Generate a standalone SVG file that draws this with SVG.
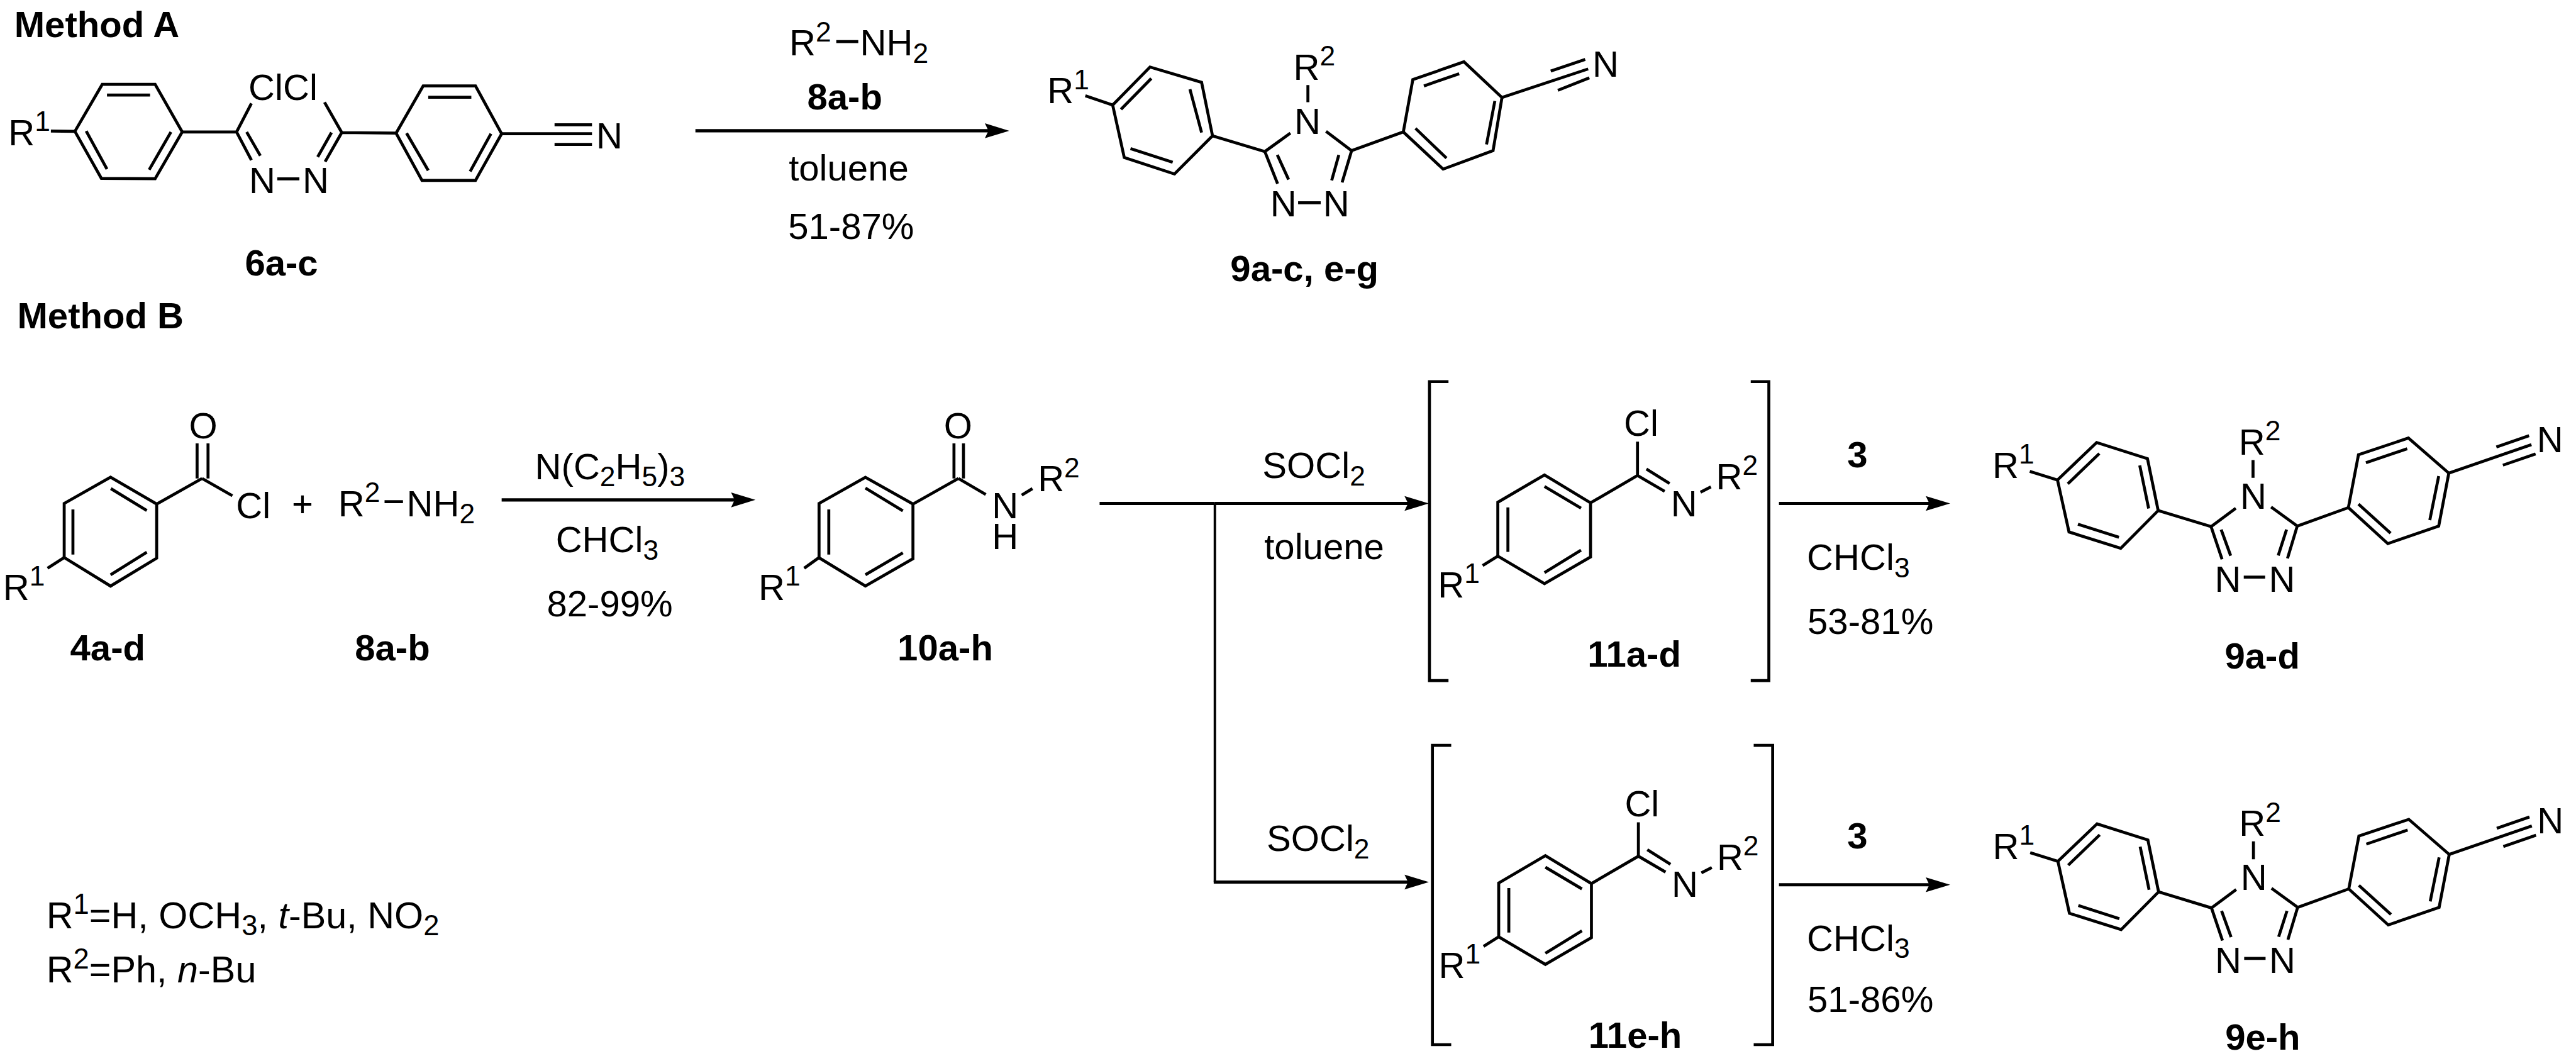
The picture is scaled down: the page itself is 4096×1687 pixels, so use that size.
<svg xmlns="http://www.w3.org/2000/svg" width="4096" height="1687" viewBox="0 0 4096 1687">
<style>
text{font-family:"Liberation Sans",Arial,sans-serif;font-size:61.5px;fill:#000}
.bd{font-weight:700}
.it{font-style:italic}
.s{font-size:47px}
.lg{font-size:62.8px}
.lg .s{font-size:48px}
.b{fill:none;stroke:#000;stroke-width:5;stroke-linejoin:miter;stroke-linecap:butt}
.c{fill:none;stroke:#000;stroke-width:5.5}
.v{fill:none;stroke:#000;stroke-width:4.2}
.br{fill:none;stroke:#000;stroke-width:5}
</style>
<defs>
<marker id="head" markerUnits="userSpaceOnUse" markerWidth="44" markerHeight="28" refX="20" refY="13" orient="auto" overflow="visible">
<path d="M41,13 L0,0.5 L6,13 L0,25.5 Z" fill="#000"/>
</marker>
</defs>
<rect width="4096" height="1687" fill="#fff"/>
<g transform="scale(0.94509)">

<g id="connectors">
<path class="c" marker-end="url(#head)" d="M1170,220 H1677"/>
<path class="c" marker-end="url(#head)" d="M844,841 H1250"/>
<path class="c" d="M1850,847 H2044"/>
<path class="c" marker-end="url(#head)" d="M2044,847 H2383"/>
<path class="v" d="M2044,847 V1484"/>
<path class="c" marker-end="url(#head)" d="M2042,1484 H2383"/>
<path class="c" marker-end="url(#head)" d="M2993,847 H3260"/>
<path class="c" marker-end="url(#head)" d="M2993,1488.5 H3260"/>
</g>

<g id="method-a-label"><text class="bd" x="24" y="62">Method A</text></g>
<g id="method-b-label"><text class="bd" x="29" y="552.7">Method B</text></g>

<g id="node-6a-c">
<polygon class="b" points="126,221 172,142 261,142 306.6,222 261,300.6 170.5,300"/>
<polygon class="b" points="666.4,224 712,144.6 800,144.6 844,225 800,303.5 710,303.5"/>
<path class="b" d="M180,160H252.5M145,220.6L180,284.5M287.6,222L251,285.6M85.6,220.6L126,221M306.6,222H397.7M398,222L423,174M398,222L423,269.5M415,222L438,262M466.5,301H503.7M575,223L546,172M575,223L547,272M557.7,223L534.5,264M575,223L666.4,224M720.5,163.5H793M684,224L720.5,286.7M826,225L791,288.5M844,225H996M933,210H996M933,243H996"/>
<text x="14" y="244.5">R<tspan class="s" dy="-24">1</tspan></text>
<text x="418" y="168.5">ClCl</text>
<text x="419" y="325">N</text>
<text x="509" y="325">N</text>
<text x="1003" y="250">N</text>
<text class="bd" x="412" y="463">6a-c</text>
</g>

<g id="reagents-a">
<path class="b" d="M1407,70H1444"/>
<text x="1328" y="93.6">R<tspan class="s" dy="-24">2</tspan></text>
<text x="1447" y="93.6">NH<tspan class="s" dy="12">2</tspan></text>
<text class="bd" x="1358" y="184.6">8a-b</text>
<text x="1327" y="303.5">toluene</text>
<text x="1326" y="401.7">51-87%</text>
</g>

<g id="node-9a-c-e-g">
<polygon class="b" points="1872,176.7 1934.8,112.8 2021.6,138.5 2040,228.5 1976,292.7 1891.5,265"/>
<polygon class="b" points="2361,222 2377,134 2463,104 2527,164 2512,253.5 2428,284.5"/>
<path class="b" d="M1937,132L1886,184M2002,150L2021.6,223M1902,250L1973,273M1826,161L1872,176.7M2040,228.5L2128,255M2128,255L2171,224M2200.5,143V172M2231,221L2274,253.5M2274,253.5L2361,222M2128,255L2149.5,309M2149,260.6L2168,302M2274,253.5L2258,307M2252.5,260.6L2240.5,303.5M2184,341H2222M2395.6,144.6L2455,124M2515,170L2501,243M2381.5,216L2433.6,266M2527,164L2672,116M2609,119.6L2667,100M2621,152L2674,131"/>
<text x="1762" y="174">R<tspan class="s" dy="-24">1</tspan></text>
<text x="2176" y="134">R<tspan class="s" dy="-24">2</tspan></text>
<text x="2177.5" y="225">N</text>
<text x="2137" y="364">N</text>
<text x="2226" y="364">N</text>
<text x="2679" y="129">N</text>
<text class="bd" x="2070" y="473">9a-c, e-g</text>
</g>

<g id="node-4a-d">
<polygon class="b" points="108,847 186,802.8 263.6,848 263.6,939 186,986 108,938"/>
<path class="b" d="M186.5,822L247,859M122.7,857V933M247,929L186,967M263.6,848L340,805M340,805L391,834M331.6,805V746M350,805V746M80,956L108,938"/>
<text x="318" y="737">O</text>
<text x="397" y="872.4">Cl</text>
<text x="5" y="1009">R<tspan class="s" dy="-24">1</tspan></text>
<text class="bd" x="118" y="1110.5">4a-d</text>
</g>

<g id="plus"><text x="491" y="869">+</text></g>

<g id="node-8a-b">
<path class="b" d="M647,844H678"/>
<text x="569" y="868.5">R<tspan class="s" dy="-24">2</tspan></text>
<text x="684" y="868.5">NH<tspan class="s" dy="12">2</tspan></text>
<text class="bd" x="597" y="1110.5">8a-b</text>
</g>

<g id="reagents-b1">
<text x="900" y="806">N(C<tspan class="s" dy="12">2</tspan><tspan dy="-12">H</tspan><tspan class="s" dy="12">5</tspan><tspan dy="-12">)</tspan><tspan class="s" dy="12">3</tspan></text>
<text x="935" y="929.5">CHCl<tspan class="s" dy="12">3</tspan></text>
<text x="920" y="1037">82-99%</text>
</g>

<g id="node-10a-h">
<polygon class="b" points="1378,847 1456,803 1536,848 1536,940 1456,986 1378,938.4"/>
<path class="b" d="M1456,821L1519,859.5M1394.4,857V933M1519,930L1456,967M1536,848L1612.5,805M1612.5,805L1658.5,832M1605,805V746M1621,805V746M1719,833L1737,822M1353,956L1378,938"/>
<text x="1588" y="737">O</text>
<text x="1669" y="872">N</text>
<text x="1669" y="924">H</text>
<text x="1746" y="826.7">R<tspan class="s" dy="-24">2</tspan></text>
<text x="1276" y="1009">R<tspan class="s" dy="-24">1</tspan></text>
<text class="bd" x="1510" y="1110.5">10a-h</text>
</g>

<g id="reagents-b2">
<text x="2124" y="804.6">SOCl<tspan class="s" dy="12">2</tspan></text>
<text x="2127" y="941">toluene</text>
<text x="2131" y="1432">SOCl<tspan class="s" dy="12">2</tspan></text>
</g>

<g id="node-11a-d">
<path class="br" d="M2437,642H2405V1145H2437M2945.5,642H2976V1145H2945.5"/>
<polygon class="b" points="2520,845 2598.5,799 2676,846 2676,937 2598.5,982 2520,935.6"/>
<path class="b" d="M2598.5,818.5L2660,855M2537,853.5V928.4M2660,925.6L2598.5,963.4M2676,846L2755,800M2755,800V743M2755,800L2800.7,826.7M2770,789L2809,813.5M2861,828L2878.5,819M2494.5,951.6L2520,935.6"/>
<text x="2732" y="733">Cl</text>
<text x="2811" y="868.5">N</text>
<text x="2887" y="823">R<tspan class="s" dy="-24">2</tspan></text>
<text x="2419" y="1005">R<tspan class="s" dy="-24">1</tspan></text>
<text class="bd" x="2671" y="1122">11a-d</text>
</g>

<g id="node-11e-h">
<path class="br" d="M2441.6,1254H2410V1757.5H2441.6M2950.5,1254H2982.4V1757.5H2950.5"/>
<g transform="translate(1.5,640.5)">
<polygon class="b" points="2520,845 2598.5,799 2676,846 2676,937 2598.5,982 2520,935.6"/>
<path class="b" d="M2598.5,818.5L2660,855M2537,853.5V928.4M2660,925.6L2598.5,963.4M2676,846L2755,800M2755,800V743M2755,800L2800.7,826.7M2770,789L2809,813.5M2861,828L2878.5,819M2494.5,951.6L2520,935.6"/>
<text x="2732" y="733">Cl</text>
<text x="2811" y="868.5">N</text>
<text x="2887" y="823">R<tspan class="s" dy="-24">2</tspan></text>
<text x="2419" y="1005">R<tspan class="s" dy="-24">1</tspan></text>
<text class="bd" x="2671" y="1122">11e-h</text>
</g>
</g>

<g id="reagents-c1">
<text class="bd" x="3108" y="786">3</text>
<text x="3040" y="959">CHCl<tspan class="s" dy="12">3</tspan></text>
<text x="3041" y="1067">53-81%</text>
</g>
<g id="reagents-c2">
<text class="bd" x="3108" y="1427">3</text>
<text x="3040" y="1600">CHCl<tspan class="s" dy="12">3</tspan></text>
<text x="3041" y="1703">51-86%</text>
</g>

<g id="node-9a-d">
<polygon class="b" points="3461.6,807.5 3527.5,744.5 3613,771.6 3631,859 3568,922.5 3481,895"/>
<polygon class="b" points="3951,854 3968,765 4052,737 4120,796 4103,885 4017.4,914.6"/>
<path class="b" d="M3532,763L3479,814M3600,783L3615,855.5M3496,882L3565,904M3415,793L3461.6,807.5M3631,859L3720,886M3720,886L3761.6,855M3790.6,774V804M3821,853L3865,885M3865,885L3951,854M3720,886L3738.5,941M3737,891L3753,935M3865,885L3848.6,939.4M3847,891L3833,934.5M3775,971H3811M3980.5,778.6L4050,755M4103,801L4088,875M3968,848L4022,897M4120,796L4259,748M4200,752L4255,733M4211,782.6L4266,763.7"/>
<text x="3352" y="804">R<tspan class="s" dy="-24">1</tspan></text>
<text x="3766.5" y="765">R<tspan class="s" dy="-24">2</tspan></text>
<text x="3769" y="856">N</text>
<text x="3726" y="995.5">N</text>
<text x="3817" y="995.5">N</text>
<text x="4268" y="761">N</text>
<text class="bd" x="3743" y="1125">9a-d</text>
</g>

<g id="node-9e-h" transform="translate(0.7,641.5)">
<polygon class="b" points="3461.6,807.5 3527.5,744.5 3613,771.6 3631,859 3568,922.5 3481,895"/>
<polygon class="b" points="3951,854 3968,765 4052,737 4120,796 4103,885 4017.4,914.6"/>
<path class="b" d="M3532,763L3479,814M3600,783L3615,855.5M3496,882L3565,904M3415,793L3461.6,807.5M3631,859L3720,886M3720,886L3761.6,855M3790.6,774V804M3821,853L3865,885M3865,885L3951,854M3720,886L3738.5,941M3737,891L3753,935M3865,885L3848.6,939.4M3847,891L3833,934.5M3775,971H3811M3980.5,778.6L4050,755M4103,801L4088,875M3968,848L4022,897M4120,796L4259,748M4200,752L4255,733M4211,782.6L4266,763.7"/>
<text x="3352" y="804">R<tspan class="s" dy="-24">1</tspan></text>
<text x="3766.5" y="765">R<tspan class="s" dy="-24">2</tspan></text>
<text x="3769" y="856">N</text>
<text x="3726" y="995.5">N</text>
<text x="3817" y="995.5">N</text>
<text x="4268" y="761">N</text>
<text class="bd" x="3743" y="1125">9e-h</text>
</g>

<g id="legend">
<text class="lg" x="78" y="1561.5">R<tspan class="s" dy="-24">1</tspan><tspan dy="24">=H, OCH</tspan><tspan class="s" dy="12">3</tspan><tspan dy="-12">, </tspan><tspan class="it">t</tspan><tspan>-Bu, NO</tspan><tspan class="s" dy="12">2</tspan></text>
<text class="lg" x="78" y="1653">R<tspan class="s" dy="-24">2</tspan><tspan dy="24">=Ph, </tspan><tspan class="it">n</tspan><tspan>-Bu</tspan></text>
</g>

</g>
</svg>
